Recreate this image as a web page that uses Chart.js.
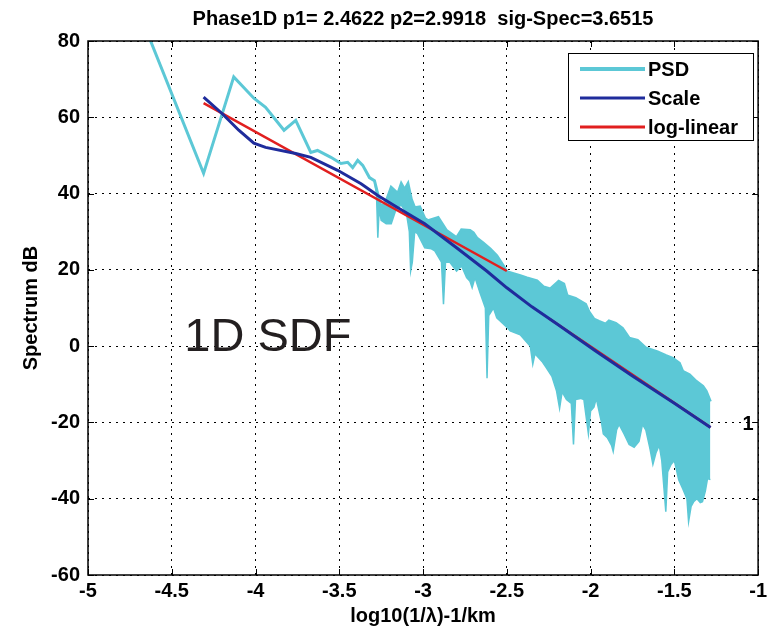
<!DOCTYPE html>
<html>
<head>
<meta charset="utf-8">
<script src="https://cdn.jsdelivr.net/npm/chart.js@4"></script>
<style>
  body { margin: 0; background: #fff; }
  canvas { display: block; }
</style>
</head>
<body>
<canvas id="spec" width="771" height="635"></canvas>
<script>
// axis ticks
const xTicks = [-5, -4.5, -4, -3.5, -3, -2.5, -2, -1.5, -1];
const xTickLabels = ['-5', '-4.5', '-4', '-3.5', '-3', '-2.5', '-2', '-1.5', '-1'];
const yTicks = [-60, -40, -20, 0, 20, 40, 60, 80];
const yTickLabels = ['-60', '-40', '-20', '0', '20', '40', '60', '80'];

// PSD, top edge of the trace
const psdX = [-4.64, -4.31, -4.13, -4.01, -3.94, -3.83, -3.76, -3.67, -3.63, -3.55, -3.49, -3.45, -3.42, -3.39, -3.36, -3.32, -3.29,
  -3.25, -3.22, -3.19, -3.15, -3.13, -3.11, -3.09, -3.07, -3.05, -3.02, -2.99, -2.97, -2.91, -2.86, -2.80, -2.77, -2.72, -2.70,
  -2.68, -2.64, -2.60, -2.56, -2.52, -2.50, -2.46, -2.42, -2.38, -2.32, -2.28, -2.24, -2.19, -2.16, -2.14, -2.09, -2.03, -2.01,
  -1.98, -1.95, -1.91, -1.89, -1.85, -1.81, -1.77, -1.72, -1.67, -1.60, -1.55, -1.51, -1.47, -1.45, -1.41, -1.37, -1.33, -1.31, -1.285];
const psdY = [81.5, 45.3, 70.6, 65.0, 62.6, 56.6, 59.2, 50.8, 51.3, 49.5, 47.9, 48.2, 46.8, 48.7, 47.4, 44.2, 43.4,
  36.3, 38.0, 41.6, 40.0, 42.6, 41.0, 42.6, 38.5, 36.3, 36.5, 33.5, 32.9, 33.7, 30.3, 28.4, 30.5, 30.3, 29.7,
  28.4, 27.0, 25.5, 23.7, 21.0, 19.5, 19.0, 18.5, 17.9, 17.1, 15.5, 15.0, 17.0, 16.3, 13.2, 12.5, 11.0, 9.0,
  7.1, 6.5, 5.8, 6.6, 6.0, 4.7, 2.1, 1.5, -0.5, -1.5, -2.5, -3.2, -4.5, -6.6, -7.5, -9.2, -10.5, -11.8, -14.5];

// PSD, bottom edge of the noisy part (with the downward spikes)
const psdLowX = [-3.29, -3.278, -3.27, -3.262, -3.25, -3.22, -3.19, -3.16, -3.13, -3.10, -3.082, -3.074, -3.064, -3.05, -3.033,
  -2.99, -2.95, -2.93, -2.89, -2.878, -2.866, -2.84, -2.80, -2.77, -2.74, -2.72, -2.707, -2.69, -2.66, -2.628, -2.618, -2.608,
  -2.58, -2.56, -2.50, -2.48, -2.42, -2.36, -2.345, -2.332, -2.29, -2.262, -2.23, -2.203, -2.185, -2.17, -2.144, -2.115, -2.102,
  -2.09, -2.06, -2.04, -2.025, -2.013, -2.00, -1.98, -1.966, -1.935, -1.924, -1.90, -1.875, -1.865, -1.845, -1.83, -1.80, -1.77,
  -1.74, -1.711, -1.69, -1.67, -1.645, -1.628, -1.61, -1.59, -1.575, -1.551, -1.54, -1.52, -1.50, -1.474, -1.45, -1.425, -1.415,
  -1.40, -1.385, -1.365, -1.345, -1.332, -1.315, -1.302, -1.285];
const psdLowY = [43.4, 40.0, 28.4, 36.0, 33.0, 32.1, 32.1, 36.0, 37.0, 35.0, 30.0, 19.7, 22.0, 30.0, 29.5,
  25.8, 25.5, 25.0, 22.0, 11.0, 22.0, 22.0, 19.7, 21.0, 18.0, 17.0, 15.3, 18.0, 14.0, 10.0, -8.4, 8.0,
  10.0, 7.4, 5.0, 4.0, 3.0, 0.0, -4.7, -2.0, -4.0, -5.8, -8.0, -11.8, -16.3, -12.0, -14.0, -15.0, -25.8,
  -14.0, -13.7, -14.0, -19.0, -23.0, -17.0, -16.0, -13.7, -20.0, -23.0, -24.0, -26.0, -27.6, -22.0, -20.5, -23.0, -25.8,
  -26.5, -25.0, -20.5, -22.0, -27.0, -31.0, -28.0, -26.0, -30.0, -43.4, -33.0, -31.0, -30.0, -35.0, -37.4, -40.0, -46.0,
  -42.0, -40.8, -40.0, -41.0, -40.8, -38.0, -34.7, -35.0];

// Scale fit
const scaleX = [-4.31, -4.20, -4.10, -4.01, -3.94, -3.76, -3.67, -3.51, -3.37, -3.27, -3.15, -2.99, -2.80, -2.62, -2.50, -2.35, -2.20, -1.97, -1.75, -1.50, -1.284];
const scaleY = [65.3, 61.0, 56.6, 53.2, 52.1, 50.5, 49.5, 46.1, 42.6, 39.5, 36.3, 32.1, 25.8, 19.7, 15.3, 10.3, 5.8, -1.3, -7.8, -15.0, -21.3];

// log-linear fit, two pieces
const logX = [-4.31, -2.50, -2.40, -2.25, -1.284];
const logY = [63.7, 19.7, null, 7.3, -21.3];

const CYAN = '#5cc8d6';
const BLUE = '#1f2c9c';
const RED = '#e11f1f';
const FONT = "'Liberation Sans', Arial, sans-serif";

const pts = (xs, ys) => xs.map((x, i) => ({x: x, y: ys[i]}));

const deco = {
  id: 'deco',
  beforeDraw(chart) {
    const ctx = chart.ctx;
    ctx.save();
    ctx.fillStyle = '#fff';
    ctx.fillRect(0, 0, chart.width, chart.height);
    ctx.restore();
  },
  afterDraw(chart) {
    const {ctx, chartArea: a, scales: {x, y}} = chart;
    ctx.save();
    ctx.strokeStyle = '#000';
    ctx.lineWidth = 1;
    ctx.beginPath();
    xTicks.forEach(v => {
      const px = Math.round(x.getPixelForValue(v)) + 0.5;
      ctx.moveTo(px, a.bottom); ctx.lineTo(px, a.bottom - 6);
      ctx.moveTo(px, a.top); ctx.lineTo(px, a.top + 6);
    });
    yTicks.forEach(v => {
      const py = Math.round(y.getPixelForValue(v)) + 0.5;
      ctx.moveTo(a.left, py); ctx.lineTo(a.left + 6, py);
      ctx.moveTo(a.right, py); ctx.lineTo(a.right - 6, py);
    });
    ctx.stroke();
    ctx.lineWidth = 1.5;
    ctx.strokeRect(a.left, a.top, a.right - a.left, a.bottom - a.top);

    // legend box
    const lx = 568, ly = 53, lw = 185, lh = 87;
    ctx.fillStyle = '#fff';
    ctx.fillRect(lx, ly, lw, lh);
    ctx.lineWidth = 1;
    ctx.strokeRect(lx + 0.5, ly + 0.5, lw, lh);
    const rows = chart.data.datasets.filter(d => d.label);
    ctx.font = 'bold 20px ' + FONT;
    ctx.textBaseline = 'middle';
    ctx.textAlign = 'left';
    rows.forEach((d, i) => {
      const cy = ly + 16 + i * 29;
      ctx.strokeStyle = d.borderColor;
      ctx.lineWidth = d.label === 'PSD' ? 4 : 3;
      ctx.beginPath();
      ctx.moveTo(lx + 12, cy); ctx.lineTo(lx + 77, cy);
      ctx.stroke();
      ctx.fillStyle = '#000';
      ctx.fillText(d.label, lx + 80, cy + 1);
    });

    // titles
    ctx.fillStyle = '#000';
    ctx.textAlign = 'center';
    ctx.font = 'bold 20px ' + FONT;
    ctx.fillText('Phase1D p1= 2.4622 p2=2.9918  sig-Spec=3.6515', (a.left + a.right) / 2, 19);
    ctx.fillText('log10(1/\u03bb)-1/km', (a.left + a.right) / 2, 616);
    ctx.save();
    ctx.translate(31, (a.top + a.bottom) / 2);
    ctx.rotate(-Math.PI / 2);
    ctx.fillText('Spectrum dB', 0, 0);
    ctx.restore();

    // annotations
    ctx.fillText('1', x.getPixelForValue(-1.06), y.getPixelForValue(-20.5));
    ctx.textAlign = 'left';
    ctx.textBaseline = 'alphabetic';
    ctx.fillStyle = '#231f20';
    ctx.font = '47px ' + FONT;
    ctx.fillText('1D SDF', x.getPixelForValue(-4.425), y.getPixelForValue(-1.3));
    ctx.restore();
  }
};

new Chart('spec', {
  type: 'line',
  data: {
    datasets: [
      {
        label: 'PSD',
        data: pts(psdX, psdY),
        borderColor: CYAN,
        backgroundColor: CYAN,
        borderWidth: 3,
        fill: '+1',
        order: 3
      },
      {
        label: '',
        data: pts(psdLowX, psdLowY),
        borderColor: CYAN,
        borderWidth: 1.5,
        fill: false,
        order: 4
      },
      {
        label: 'Scale',
        data: pts(scaleX, scaleY),
        borderColor: BLUE,
        borderWidth: 3,
        fill: false,
        order: 1
      },
      {
        label: 'log-linear',
        data: pts(logX, logY),
        borderColor: RED,
        borderWidth: 2.5,
        fill: false,
        spanGaps: false,
        order: 2
      }
    ]
  },
  options: {
    responsive: false,
    animation: false,
    elements: { point: { radius: 0 }, line: { tension: 0 } },
    layout: { padding: { top: 41, right: 8, left: 0, bottom: 0 } },
    plugins: { legend: { display: false }, title: { display: false }, tooltip: { enabled: false } },
    scales: {
      x: {
        type: 'linear',
        min: -5, max: -1,
        afterBuildTicks: s => { s.ticks = xTicks.map(v => ({value: v})); },
        afterFit: s => { s.height = 60; },
        grid: { color: '#000', lineWidth: 1, drawTicks: false },
        border: { display: false, dash: [2, 5] },
        ticks: {
          color: '#000', font: { family: FONT, size: 20, weight: 'bold' }, padding: 4, maxRotation: 0, autoSkip: false,
          callback: (v, i) => xTickLabels[i]
        }
      },
      y: {
        min: -60, max: 80,
        afterBuildTicks: s => { s.ticks = yTicks.map(v => ({value: v})); },
        afterFit: s => { s.width = 88; },
        grid: { color: '#000', lineWidth: 1, drawTicks: false },
        border: { display: false, dash: [2, 5] },
        ticks: {
          color: '#000', font: { family: FONT, size: 20, weight: 'bold' }, padding: 8,
          callback: (v, i) => yTickLabels[i]
        }
      }
    }
  },
  plugins: [deco]
});
</script>
</body>
</html>
